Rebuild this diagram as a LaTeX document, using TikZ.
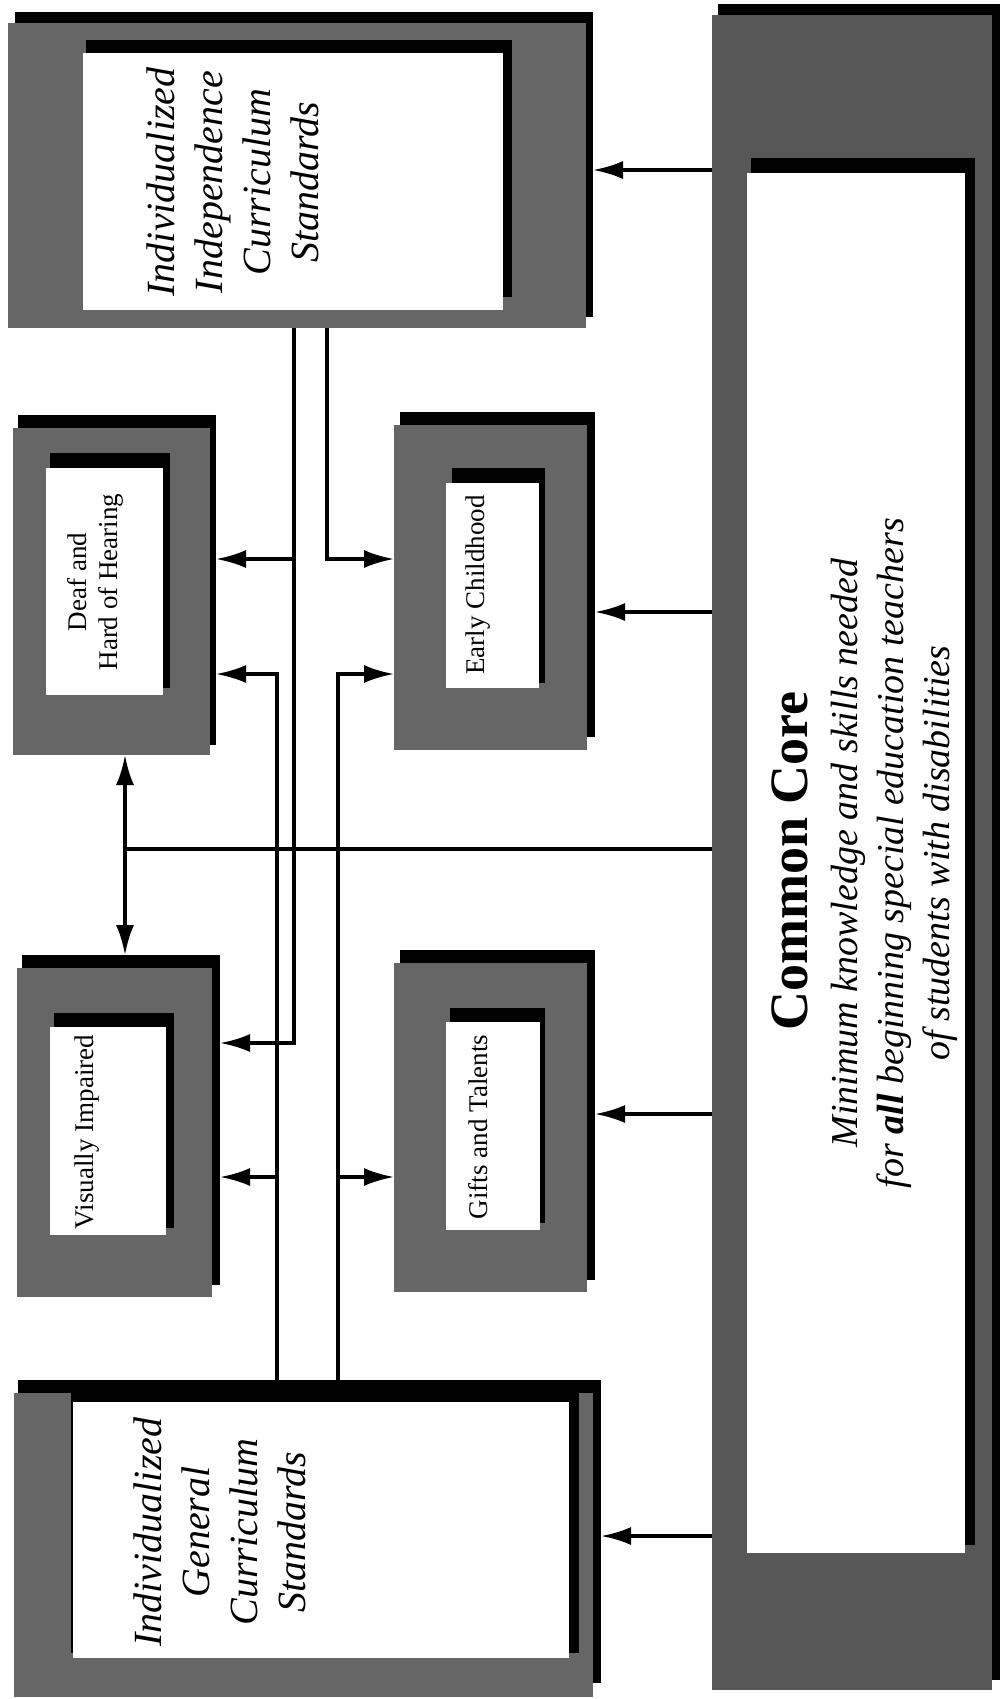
\documentclass[tikz,border=0pt]{standalone}
\usepackage{fontspec}
\setmainfont{Liberation Serif}
\usetikzlibrary{arrows.meta,fit}
\begin{document}
\begin{tikzpicture}[x=0.5pt,y=-0.5pt,
  base/.style={inner sep=0pt, outer sep=0pt, draw=none},
  shadowbox/.style={base, fill=black},
  graybox/.style={base, fill=black!60},
  ccgray/.style={base, fill=black!66},
  whitebox/.style={base, fill=white},
  bigtitle/.style={rotate=90, align=center, font=\fontsize{20}{24}\selectfont\itshape},
  smalltitle/.style={rotate=90, align=center, font=\fontsize{13.5}{15.5}\selectfont},
  conn/.style={line width=1.7pt},
  arr/.style={conn, -{Latex[length=15pt,width=9pt]}},
  dblarr/.style={conn, {Latex[length=15pt,width=9pt]}-{Latex[length=15pt,width=9pt]}}
]
\useasboundingbox (0,0) rectangle (1000,1699);

% Box 1: Individualized Independence Curriculum Standards
\node[shadowbox, fit={(15,12)(593,317)}] (b1s) {};
\node[graybox, fit={(8,23)(586,328)}] (b1) {};
\node[shadowbox, fit={(86,40)(512,297)}] (b1is) {};
\node[whitebox, fit={(83,53)(503,310)}] (b1w) {};
\node[bigtitle] (t1) at (233,182) {Individualized\\Independence\\Curriculum\\Standards};

% Box 2: Deaf and Hard of Hearing
\node[shadowbox, fit={(18,415)(216,745)}] (b2s) {};
\node[graybox, fit={(13,428)(210,755)}] (b2) {};
\node[shadowbox, fit={(50,453)(170,688)}] (b2is) {};
\node[whitebox, fit={(46,468)(163,695)}] (b2w) {};
\node[smalltitle] (t2) at (95,582) {Deaf and\\Hard of Hearing};

% Box 3: Early Childhood
\node[shadowbox, fit={(400,412)(595,737)}] (b3s) {};
\node[graybox, fit={(394,425)(587,750)}] (b3) {};
\node[shadowbox, fit={(452,468)(545,683)}] (b3is) {};
\node[whitebox, fit={(446,483)(539,688)}] (b3w) {};
\node[smalltitle] (t3) at (478,585) {Early Childhood};

% Box 4: Visually Impaired
\node[shadowbox, fit={(22,955)(220,1285)}] (b4s) {};
\node[graybox, fit={(17,968)(212,1297)}] (b4) {};
\node[shadowbox, fit={(54,1013)(174,1228)}] (b4is) {};
\node[whitebox, fit={(50,1027)(166,1235)}] (b4w) {};
\node[smalltitle] (t4) at (87,1132) {Visually Impaired};

% Box 5: Gifts and Talents
\node[shadowbox, fit={(400,950)(595,1280)}] (b5s) {};
\node[graybox, fit={(394,963)(587,1292)}] (b5) {};
\node[shadowbox, fit={(450,1008)(545,1223)}] (b5is) {};
\node[whitebox, fit={(446,1022)(540,1230)}] (b5w) {};
\node[smalltitle] (t5) at (478,1127) {Gifts and Talents};

% Box 6: Individualized General Curriculum Standards
\node[shadowbox, fit={(18,1380)(601,1683)}] (b6s) {};
\node[graybox, fit={(14,1393)(593,1697)}] (b6) {};
\node[shadowbox, fit={(71,1382)(579,1653)}] (b6is) {};
\node[whitebox, fit={(73,1402)(569,1658)}] (b6w) {};
\node[bigtitle] (t6) at (220,1532) {Individualized\\General\\Curriculum\\Standards};

% Box 7: Common Core
\node[shadowbox, fit={(718,4)(1000,1680)}] (ccs) {};
\node[ccgray, fit={(712,15)(992,1690)}] (cc) {};
\node[shadowbox, fit={(751,158)(975,1545)}] (ccis) {};
\node[whitebox, fit={(747,173)(965,1553)}] (ccw) {};
\node[rotate=90, font=\fontsize{27}{30}\selectfont\bfseries] (cct) at (790,861) {Common Core};
\node[rotate=90, align=center, font=\fontsize{19}{23}\selectfont\itshape] (ccsub) at (894,853)
  {Minimum knowledge and skills needed\\for \textbf{all} beginning special education teachers\\of students with disabilities};

% junction coordinates
\coordinate (j1) at (294,559);
\coordinate (j2) at (294,1043);
\coordinate (k1) at (327,559);
\coordinate (m1) at (277,674);
\coordinate (m2) at (277,1177);
\coordinate (n1) at (338,674);
\coordinate (n2) at (338,1177);
\coordinate (h) at (125,849);
\coordinate (a1) at (0,170);
\coordinate (a2) at (0,612);
\coordinate (a3) at (0,1114);
\coordinate (a4) at (0,1536);

% connectors from box 1
\draw[arr] (b1.south -| j1) -- (j2) -- (b4s.east |- j2);
\draw[arr] (j1) -- (b2s.east |- j1);
\draw[arr] (b1.south -| k1) -- (k1) -- (b3.west |- k1);
% connectors from box 6
\draw[arr] (b6s.north -| m1) -- (m1) -- (b2s.east |- m1);
\draw[arr] (m2) -- (b4s.east |- m2);
\draw[arr] (b6s.north -| n1) -- (n1) -- (b3.west |- n1);
\draw[arr] (n2) -- (b5.west |- n2);
% connectors from common core
\draw[arr] (cc.west |- a1) -- (b1s.east |- a1);
\draw[arr] (cc.west |- a2) -- (b3s.east |- a2);
\draw[arr] (cc.west |- a3) -- (b5s.east |- a3);
\draw[arr] (cc.west |- a4) -- (b6s.east |- a4);
\draw[conn] (cc.west |- h) -- (h);
\draw[dblarr] (b2.south -| h) -- (b4s.north -| h);
\end{tikzpicture}
\end{document}
